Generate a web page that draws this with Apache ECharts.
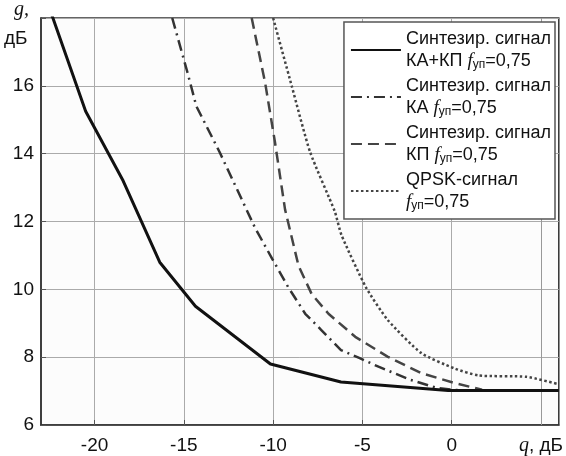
<!DOCTYPE html>
<html>
<head>
<meta charset="utf-8">
<script src="https://cdn.jsdelivr.net/npm/echarts@6/dist/echarts.min.js"></script>
<style>
  html, body { margin: 0; padding: 0; background: #fff; }
  #chart { width: 566px; height: 456px; }
</style>
</head>
<body>
<div id="chart"></div>
<script>
// Синтезир. сигнал КА+КП
const qSolid = [-22.4, -20.5, -18.4, -16.35, -14.35, -10.15, -6.2, -0.2, 6]
const gSolid = [18.1, 15.25, 13.2, 10.8, 9.5, 7.8, 7.27, 7.02, 7.02]
// Синтезир. сигнал КА
const qDashDot = [-15.65, -14.8, -14.3, -13.0, -11.0, -10.05, -9.15, -8.2, -7.3, -6.2, -5.15, -4.1, -2.3, -0.8, 0.5]
const gDashDot = [18, 16.4, 15.4, 14.05, 11.8, 10.9, 10.06, 9.28, 8.8, 8.21, 7.97, 7.72, 7.33, 7.09, 7.02]
// Синтезир. сигнал КП
const qDashed = [-11.2, -10.45, -9.9, -9.33, -8.58, -7.84, -6.9, -5.4, -3.57, -1.7, 0.15, 1.7]
const gDashed = [18, 16.1, 14.35, 12.35, 10.7, 9.86, 9.28, 8.6, 8.01, 7.53, 7.24, 7.04]
// QPSK-сигнал
const qQpsk = [-10, -8.96, -7.93, -6.55, -6.17, -4.8, -3.57, -1.7, 0.15, 1.5, 4.2, 6]
const gQpsk = [18, 16.0, 14.05, 12.3, 11.6, 10.06, 9.09, 8.12, 7.67, 7.46, 7.42, 7.2]

const xTicks = [-20, -15, -10, -5, 0, 5]
const names = ['solid', 'dashdot', 'dashed', 'qpsk']
const legendText = {
  solid: '{n|Синтезир. сигнал}\n{n|КА+КП }{f|f}{s|уп}{n|=0,75}',
  dashdot: '{n|Синтезир. сигнал}\n{n|КА }{f|f}{s|уп}{n|=0,75}',
  dashed: '{n|Синтезир. сигнал}\n{n|КП }{f|f}{s|уп}{n|=0,75}',
  qpsk: '{n|QPSK-сигнал}\n{f|f}{s|уп}{n|=0,75}',
}

const pairs = (q, g) => q.map((v, i) => [v, g[i]])
const font = 'Liberation Sans, Arial, sans-serif'

const chart = echarts.init(document.getElementById('chart'))

const option = {
  animation: false,
  backgroundColor: '#fff',
  grid: {
    left: 41,
    right: 4,
    top: 18,
    bottom: 27,
    show: true,
    borderColor: '#333',
    borderWidth: 1.5,
    backgroundColor: '#fcfcfc',
  },
  xAxis: {
    type: 'value',
    min: -23,
    max: 6,
    axisLine: { lineStyle: { color: '#333', width: 1.5 } },
    axisTick: { inside: true, length: 5, customValues: xTicks, lineStyle: { color: '#555' } },
    splitLine: {
      show: true,
      customValues: xTicks,
      lineStyle: { color: '#aaa', width: 1 },
    },
    axisLabel: {
      customValues: xTicks,
      margin: 11,
      fontFamily: font,
      fontSize: 19,
      color: '#111',
      formatter: (v) => (v === 5 ? '{i|q}, дБ' : String(v)),
      rich: {
        i: { fontFamily: 'Liberation Serif, serif', fontStyle: 'italic', fontSize: 20, color: '#111' },
      },
    },
  },
  yAxis: {
    type: 'value',
    min: 6,
    max: 18,
    interval: 2,
    axisLine: { show: true, onZero: false, lineStyle: { color: '#333', width: 1.5 } },
    axisTick: { show: true, inside: true, length: 5, lineStyle: { color: '#555' } },
    splitLine: { lineStyle: { color: '#aaa', width: 1 } },
    axisLabel: {
      margin: 7,
      fontFamily: font,
      fontSize: 19,
      color: '#111',
      formatter: (v) => (v === 18 ? '' : String(v)),
    },
  },
  legend: {
    orient: 'vertical',
    right: 11,
    top: 22,
    z: 6,
    padding: [6, 4, 6, 6],
    itemGap: 3,
    itemWidth: 50,
    itemHeight: 14,
    backgroundColor: '#fff',
    borderColor: '#555',
    borderWidth: 1.5,
    borderRadius: 0,
    data: names,
    itemStyle: { opacity: 0, color: 'transparent', borderWidth: 0 },
    formatter: (name) => legendText[name],
    textStyle: {
      fontFamily: font,
      fontSize: 18,
      color: '#111',
      lineHeight: 22,
      rich: {
        n: { fontFamily: font, fontSize: 18, color: '#111', lineHeight: 22 },
        f: { fontFamily: 'Liberation Serif, serif', fontStyle: 'italic', fontSize: 19, color: '#111', lineHeight: 22 },
        s: { fontFamily: font, fontSize: 12, color: '#111', lineHeight: 22, padding: [7, 0, 0, 0] },
      },
    },
  },
  graphic: [
    {
      type: 'text',
      left: 14,
      top: 0,
      style: { text: 'g,', font: 'italic 20px Liberation Serif, serif', fill: '#111' },
    },
    {
      type: 'text',
      left: 4,
      top: 29,
      style: { text: 'дБ', font: '19px Liberation Sans, Arial, sans-serif', fill: '#111' },
    },
  ],
  series: [
    {
      name: 'solid',
      type: 'line',
      data: pairs(qSolid, gSolid),
      symbol: 'none',
      z: 5,
      lineStyle: { color: '#111', width: 3 },
    },
    {
      name: 'dashdot',
      type: 'line',
      data: pairs(qDashDot, gDashDot),
      symbol: 'none',
      lineStyle: { color: '#333', width: 2.5, type: [11, 5, 2, 5] },
    },
    {
      name: 'dashed',
      type: 'line',
      data: pairs(qDashed, gDashed),
      symbol: 'none',
      lineStyle: { color: '#444', width: 2.5, type: [11, 6] },
    },
    {
      name: 'qpsk',
      type: 'line',
      data: pairs(qQpsk, gQpsk),
      symbol: 'none',
      smooth: 0.2,
      lineStyle: { color: '#444', width: 2.5, type: [2.5, 2.5] },
      // линия сетки при q = 5
      markLine: {
        silent: true,
        z: 3,
        symbol: 'none',
        label: { show: false },
        lineStyle: { color: '#999', width: 1, type: 'solid' },
        data: [{ xAxis: 5 }],
      },
    },
  ],
}

chart.setOption(option)
</script>
</body>
</html>
